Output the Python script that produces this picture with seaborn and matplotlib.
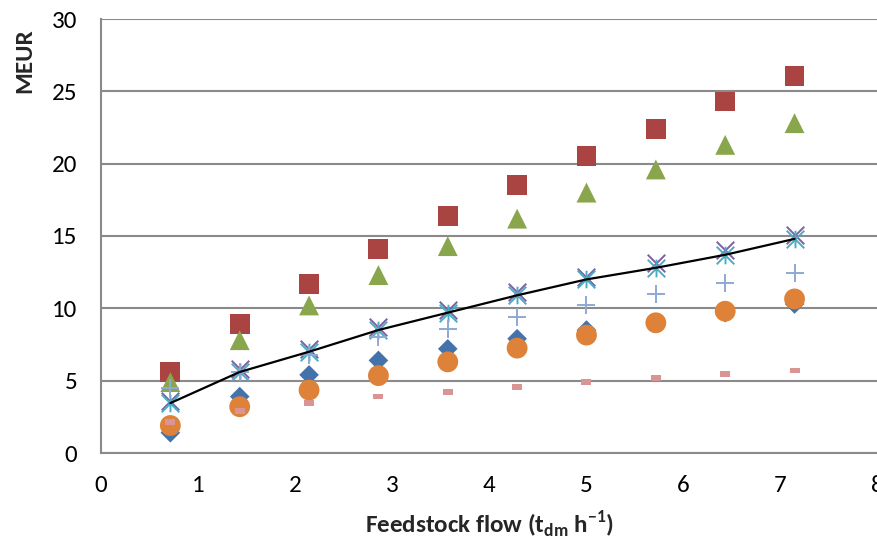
import matplotlib
matplotlib.use('Agg')
import matplotlib.pyplot as plt
from matplotlib.path import Path
import seaborn as sns

# feedstock flow (t_dm/h)
flow = [0.715, 1.43, 2.145, 2.86, 3.575, 4.29, 5.005, 5.72, 6.435, 7.15]

# MEUR, one list per series
s_diamond = [1.4, 3.9, 5.4, 6.4, 7.2, 7.9, 8.5, 9.0, 9.7, 10.3]
s_square = [5.6, 8.9, 11.7, 14.1, 16.4, 18.5, 20.5, 22.4, 24.3, 26.05]
s_triangle = [4.9, 7.8, 10.2, 12.3, 14.3, 16.2, 18.0, 19.6, 21.3, 22.8]
s_cross = [3.6, 5.8, 7.2, 8.7, 9.9, 11.1, 12.2, 13.1, 14.0, 15.1]
s_star = [3.45, 5.6, 7.0, 8.5, 9.7, 10.9, 12.0, 12.8, 13.7, 14.8]
s_circle = [1.9, 3.2, 4.35, 5.35, 6.3, 7.25, 8.15, 9.0, 9.8, 10.65]
s_plus = [4.5, 5.6, 6.8, 8.0, 8.6, 9.4, 10.2, 11.0, 11.75, 12.45]
s_dash = [2.15, 2.9, 3.45, 3.9, 4.2, 4.55, 4.9, 5.2, 5.45, 5.7]
trend = s_star

sns.set_style('white')
plt.rcParams['font.family'] = ['Carlito', 'DejaVu Sans']
plt.rcParams['mathtext.fontset'] = 'custom'
plt.rcParams['mathtext.rm'] = 'Carlito'
plt.rcParams['mathtext.bf'] = 'Carlito:bold'

fig = plt.figure(figsize=(8.78, 5.41), dpi=100)
ax = fig.add_axes([101 / 878, 1 - 453 / 541, 776 / 878, 434 / 541])

# Excel-style asterisk: an X plus a vertical bar
star = Path([(-1, -1), (1, 1), (-1, 1), (1, -1), (0, -1), (0, 1)],
            [Path.MOVETO, Path.LINETO, Path.MOVETO, Path.LINETO, Path.MOVETO, Path.LINETO])
dash = [(-1, -0.55), (1, -0.55), (1, 0.55), (-1, 0.55)]

sns.scatterplot(x=flow, y=s_diamond, marker='D', s=100, color='#4472AA', edgecolor='none', ax=ax, zorder=3)
sns.scatterplot(x=flow, y=s_square, marker='s', s=205, color='#A94442', edgecolor='none', ax=ax, zorder=3)
sns.scatterplot(x=flow, y=s_triangle, marker='^', s=205, color='#8AA64C', edgecolor='none', ax=ax, zorder=3)
sns.scatterplot(x=flow, y=s_cross, marker='x', s=160, color='#7D60A0', linewidth=1.4, ax=ax, zorder=3)
sns.scatterplot(x=flow, y=s_star, marker=star, s=160, color='#4AACC5', edgecolor='#4AACC5',
                linewidth=1.4, ax=ax, zorder=3)
sns.scatterplot(x=flow, y=s_circle, marker='o', s=225, color='#DE823A', edgecolor='none', ax=ax, zorder=3)
sns.scatterplot(x=flow, y=s_plus, marker='+', s=170, color='#8EA9D6', linewidth=1.4, ax=ax, zorder=3)
sns.scatterplot(x=flow, y=s_dash, marker=dash, s=52, color='#D99594', edgecolor='none', ax=ax, zorder=3)
sns.lineplot(x=flow, y=trend, color='black', linewidth=1.6, ax=ax, zorder=4)

ax.set_xlim(0, 8)
ax.set_ylim(0, 30)
ax.set_xticks(range(0, 9))
ax.set_yticks(range(0, 31, 5))
ax.yaxis.grid(True, color='#8A8A8A', linewidth=1.5)
ax.set_axisbelow(True)
for side in ['top', 'right']:
    ax.spines[side].set_visible(False)
for side in ['left', 'bottom']:
    ax.spines[side].set_color('#8A8A8A')
    ax.spines[side].set_linewidth(1.5)
ax.tick_params(axis='both', direction='out', length=6, width=1.5, color='#8A8A8A',
               labelsize=18, labelcolor='black')
ax.tick_params(axis='y', pad=11)
ax.tick_params(axis='x', pad=10)

ax.set_xlabel(r'Feedstock flow (t$_{\mathbf{dm}}$ h$^{\mathbf{-1}}$)', fontsize=18,
              fontweight='bold', labelpad=9)
ax.set_ylabel('MEUR', fontsize=18, fontweight='bold')
ax.yaxis.set_label_coords(-0.085, 0.905)

fig.savefig('out.png', dpi=100)
